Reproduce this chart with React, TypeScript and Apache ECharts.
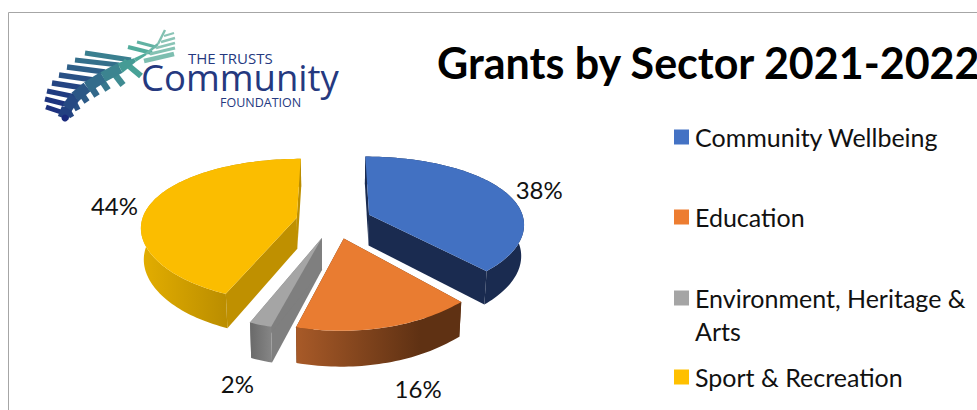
import React, { useEffect, useRef } from "react";
import * as echarts from "echarts";

const categories = ["Community Wellbeing", "Education", "Environment, Heritage & Arts", "Sport & Recreation"];
const legendLines = [["Community Wellbeing"], ["Education"], ["Environment, Heritage &", "Arts"], ["Sport & Recreation"]];
const values = [38, 16, 2, 44];
const titleText = "Grants by Sector 2021-2022";

const legendColors = ["#4472c4", "#ed7d31", "#a5a5a5", "#ffc000"];
const topColors = ["#4271c2", "#e97c31", "#a5a5a5", "#fbbd00"];
const radialColors = ["#1a2b50", "#5f3113", "#7f7f7f", "#bf9000"];
const outerStops = [
  ["#1a2b50", "#1a2b50", 400, 530],
  ["#a85a28", "#5f3113", 296, 420],
  ["#6c6c6c", "#8a8a8a", 252, 275],
  ["#e2ad00", "#b98c00", 143, 230],
] as const;
const labelNudges = [[35, -2], [32, 61], [-23, 59], [-35, 0]];
const legendRows = [137, 217, 298, 377];

const CX = 334, CY = 221, RX = 155, RY = 70, KY = 0.17, KX = 0.12, KD = 0.11, EXPLODE = 0.246, DEPTH = 31;
const total = values.reduce((a, b) => a + b, 0);

function project(px: number, py: number, drop: boolean): [number, number] {
  let x = (RX * px) / (1 - KX * py);
  let y = (RY * py) / (1 - KY * py);
  if (drop) {
    y += DEPTH / (1 - KD * py);
    x *= 0.985;
  }
  if (py > 0) x -= 4 * Math.pow(Math.min(py, 1), 4);
  return [CX + x, CY + y];
}

function renderSlice(params: any, api: any) {
  const i = api.value(1);
  const before = values.slice(0, i).reduce((a, b) => a + b, 0);
  const a0 = (before / total) * Math.PI * 2;
  const a1 = ((before + api.value(0)) / total) * Math.PI * 2;
  const mid = (a0 + a1) / 2;
  const tx = EXPLODE * Math.sin(mid);
  const ty = -EXPLODE * Math.cos(mid);
  const rim: [number, number][] = [];
  const n = Math.max(4, Math.ceil((a1 - a0) / 0.025));
  for (let j = 0; j <= n; j++) {
    const a = a0 + ((a1 - a0) * j) / n;
    rim.push([tx + Math.sin(a), ty - Math.cos(a)]);
  }
  const topRim = rim.map((p) => project(p[0], p[1], false));
  const lowRim = rim.map((p) => project(p[0], p[1], true));
  const tipTop = project(tx, ty, false);
  const tipLow = project(tx, ty, true);
  const [c0, c1, g0, g1] = outerStops[i];
  const midRim = project(tx + Math.sin(mid), ty - Math.cos(mid), false);
  return {
    type: "group",
    children: [
      { type: "polygon", shape: { points: [topRim[0], tipTop, tipLow, lowRim[0]] }, style: { fill: radialColors[i] } },
      { type: "polygon", shape: { points: [topRim[n], tipTop, tipLow, lowRim[n]] }, style: { fill: radialColors[i] } },
      {
        type: "polygon",
        shape: { points: [...topRim, ...lowRim.slice().reverse()] },
        style: {
          fill: new echarts.graphic.LinearGradient(g0, 0, g1, 0, [
            { offset: 0, color: c0 },
            { offset: 1, color: c1 },
          ], true),
        },
      },
      { type: "polygon", shape: { points: [tipTop, ...topRim] }, style: { fill: topColors[i] } },
      {
        type: "text",
        style: {
          text: `${api.value(0)}%`,
          x: midRim[0] + labelNudges[i][0],
          y: midRim[1] + labelNudges[i][1],
          align: "center",
          verticalAlign: "middle",
          font: "24px Lato",
          fill: "#111111",
        },
      },
    ],
  };
}

function mix(t: number) {
  const a = [0x1a, 0x2a, 0x7c];
  const b = [0x4a, 0xa8, 0x98];
  const e = [0x8a, 0xc4, 0xb6];
  const u = Math.min(1, Math.max(0, t));
  const [p, q, s] = u < 0.75 ? [a, b, u / 0.75] : [b, e, (u - 0.75) / 0.25];
  const c = p.map((v, i) => Math.round(v + (q[i] - v) * s));
  return `rgb(${c[0]},${c[1]},${c[2]})`;
}

const stripes: number[][] = [
  [85, 53, 131, 60, 2.5], [75, 60, 119, 65, 2.6], [67, 67, 105, 72, 2.7], [59, 75, 94, 80, 2.7],
  [52, 83, 84, 88, 2.7], [47, 91, 76, 97, 2.6], [45, 99, 69, 105, 2.5], [46, 107, 64, 113, 2.5],
  [123, 61, 141, 76, 3], [110, 68, 123, 85, 3.2], [98, 75, 108, 90, 3.2], [88, 82, 97, 96, 3.2],
  [79, 90, 87, 102, 3], [72, 98, 78, 110, 2.7], [66, 106, 72, 117, 2.4],
  [128, 47, 152, 53, 2], [137, 42, 156, 47, 1.6], [144, 61, 174, 54, 2.4], [150, 54, 175, 48, 1.6],
  [156, 48, 175, 43, 1.4], [161, 42, 175, 38, 1.2], [164, 36, 174, 33, 1.1],
];

function band(x0: number, y0: number, x1: number, y1: number, h0: number, h1: number) {
  const dx = x1 - x0, dy = y1 - y0;
  const l = Math.hypot(dx, dy) || 1;
  const nx = -dy / l, ny = dx / l;
  return [[x0 + nx * h0, y0 + ny * h0], [x1 + nx * h1, y1 + ny * h1], [x1 - nx * h1, y1 - ny * h1], [x0 - nx * h0, y0 - ny * h0]];
}

function logoElements(): any[] {
  const out: any[] = [];
  stripes.forEach(([x0, y0, x1, y1, h]) => {
    out.push({
      type: "polygon",
      shape: { points: band(x0, y0, x1, y1, h, h) },
      style: { fill: mix((x0 + x1 - 100) / 230) },
    });
  });
  const spine: number[][] = [[63, 118], [67, 108], [75, 97], [87, 87], [103, 77], [120, 68], [135, 60], [146, 54], [158, 44], [165, 30]];
  spine.slice(0, -1).forEach((p, i) => {
    const q = spine[i + 1];
    const h0 = i < 6 ? 5.5 : i === 6 ? 2 : 1.2;
    const h1 = i < 5 ? 5.5 : i === 5 ? 2 : 1.2;
    out.push({
      type: "polygon",
      shape: { points: band(p[0], p[1], q[0], q[1], h0, h1) },
      style: { fill: mix((p[0] + q[0] - 100) / 230) },
    });
  });
  out.push({ type: "circle", shape: { cx: 65, cy: 118, r: 3.5 }, style: { fill: "#1a2a7c" } });
  out.push({ type: "text", style: { text: "THE TRUSTS", x: 188, y: 58, verticalAlign: "middle", font: "15px 'Open Sans'", fill: "#25397f" } });
  out.push({ type: "text", style: { text: "Community", x: 141, y: 77, verticalAlign: "middle", font: "36.5px 'Open Sans'", fill: "#25397f" } });
  out.push({ type: "text", style: { text: "FOUNDATION", x: 220, y: 102.5, verticalAlign: "middle", font: "12.5px 'Open Sans'", fill: "#25397f" } });
  return out;
}

function legendElements(): any[] {
  const out: any[] = [];
  legendLines.forEach((lines, i) => {
    const y = legendRows[i];
    out.push({ type: "rect", shape: { x: 674, y: y - 7.5, width: 15, height: 15 }, style: { fill: legendColors[i] } });
    lines.forEach((t, j) => {
      out.push({
        type: "text",
        style: { text: t, x: 695, y: y + j * 33, verticalAlign: "middle", font: "25px Lato", fill: "#111111" },
      });
    });
  });
  return out;
}

export default function App() {
  const ref = useRef<HTMLDivElement>(null);
  useEffect(() => {
    const chart = echarts.init(ref.current!, undefined, { renderer: "svg" });
    chart.setOption({
      animation: false,
      backgroundColor: "#ffffff",
      graphic: [
        { type: "rect", z: -1, shape: { x: 8.5, y: 12.5, width: 1100, height: 600 }, style: { fill: "#ffffff", stroke: "#a6a6a6", lineWidth: 1 } },
        { type: "group", children: logoElements() },
        { type: "group", children: legendElements() },
        { type: "text", style: { text: titleText, x: 437, y: 62, verticalAlign: "middle", font: "bold 43px Lato", fill: "#000000" } },
      ],
      series: [
        {
          type: "custom",
          coordinateSystem: "none",
          silent: true,
          renderItem: renderSlice,
          data: values.map((v, i) => ({ name: categories[i], value: [v, i] })),
        },
      ],
    });
    return () => chart.dispose();
  }, []);
  return <div ref={ref} style={{ position: "absolute", left: 0, top: 0, width: 977, height: 410 }} />;
}
